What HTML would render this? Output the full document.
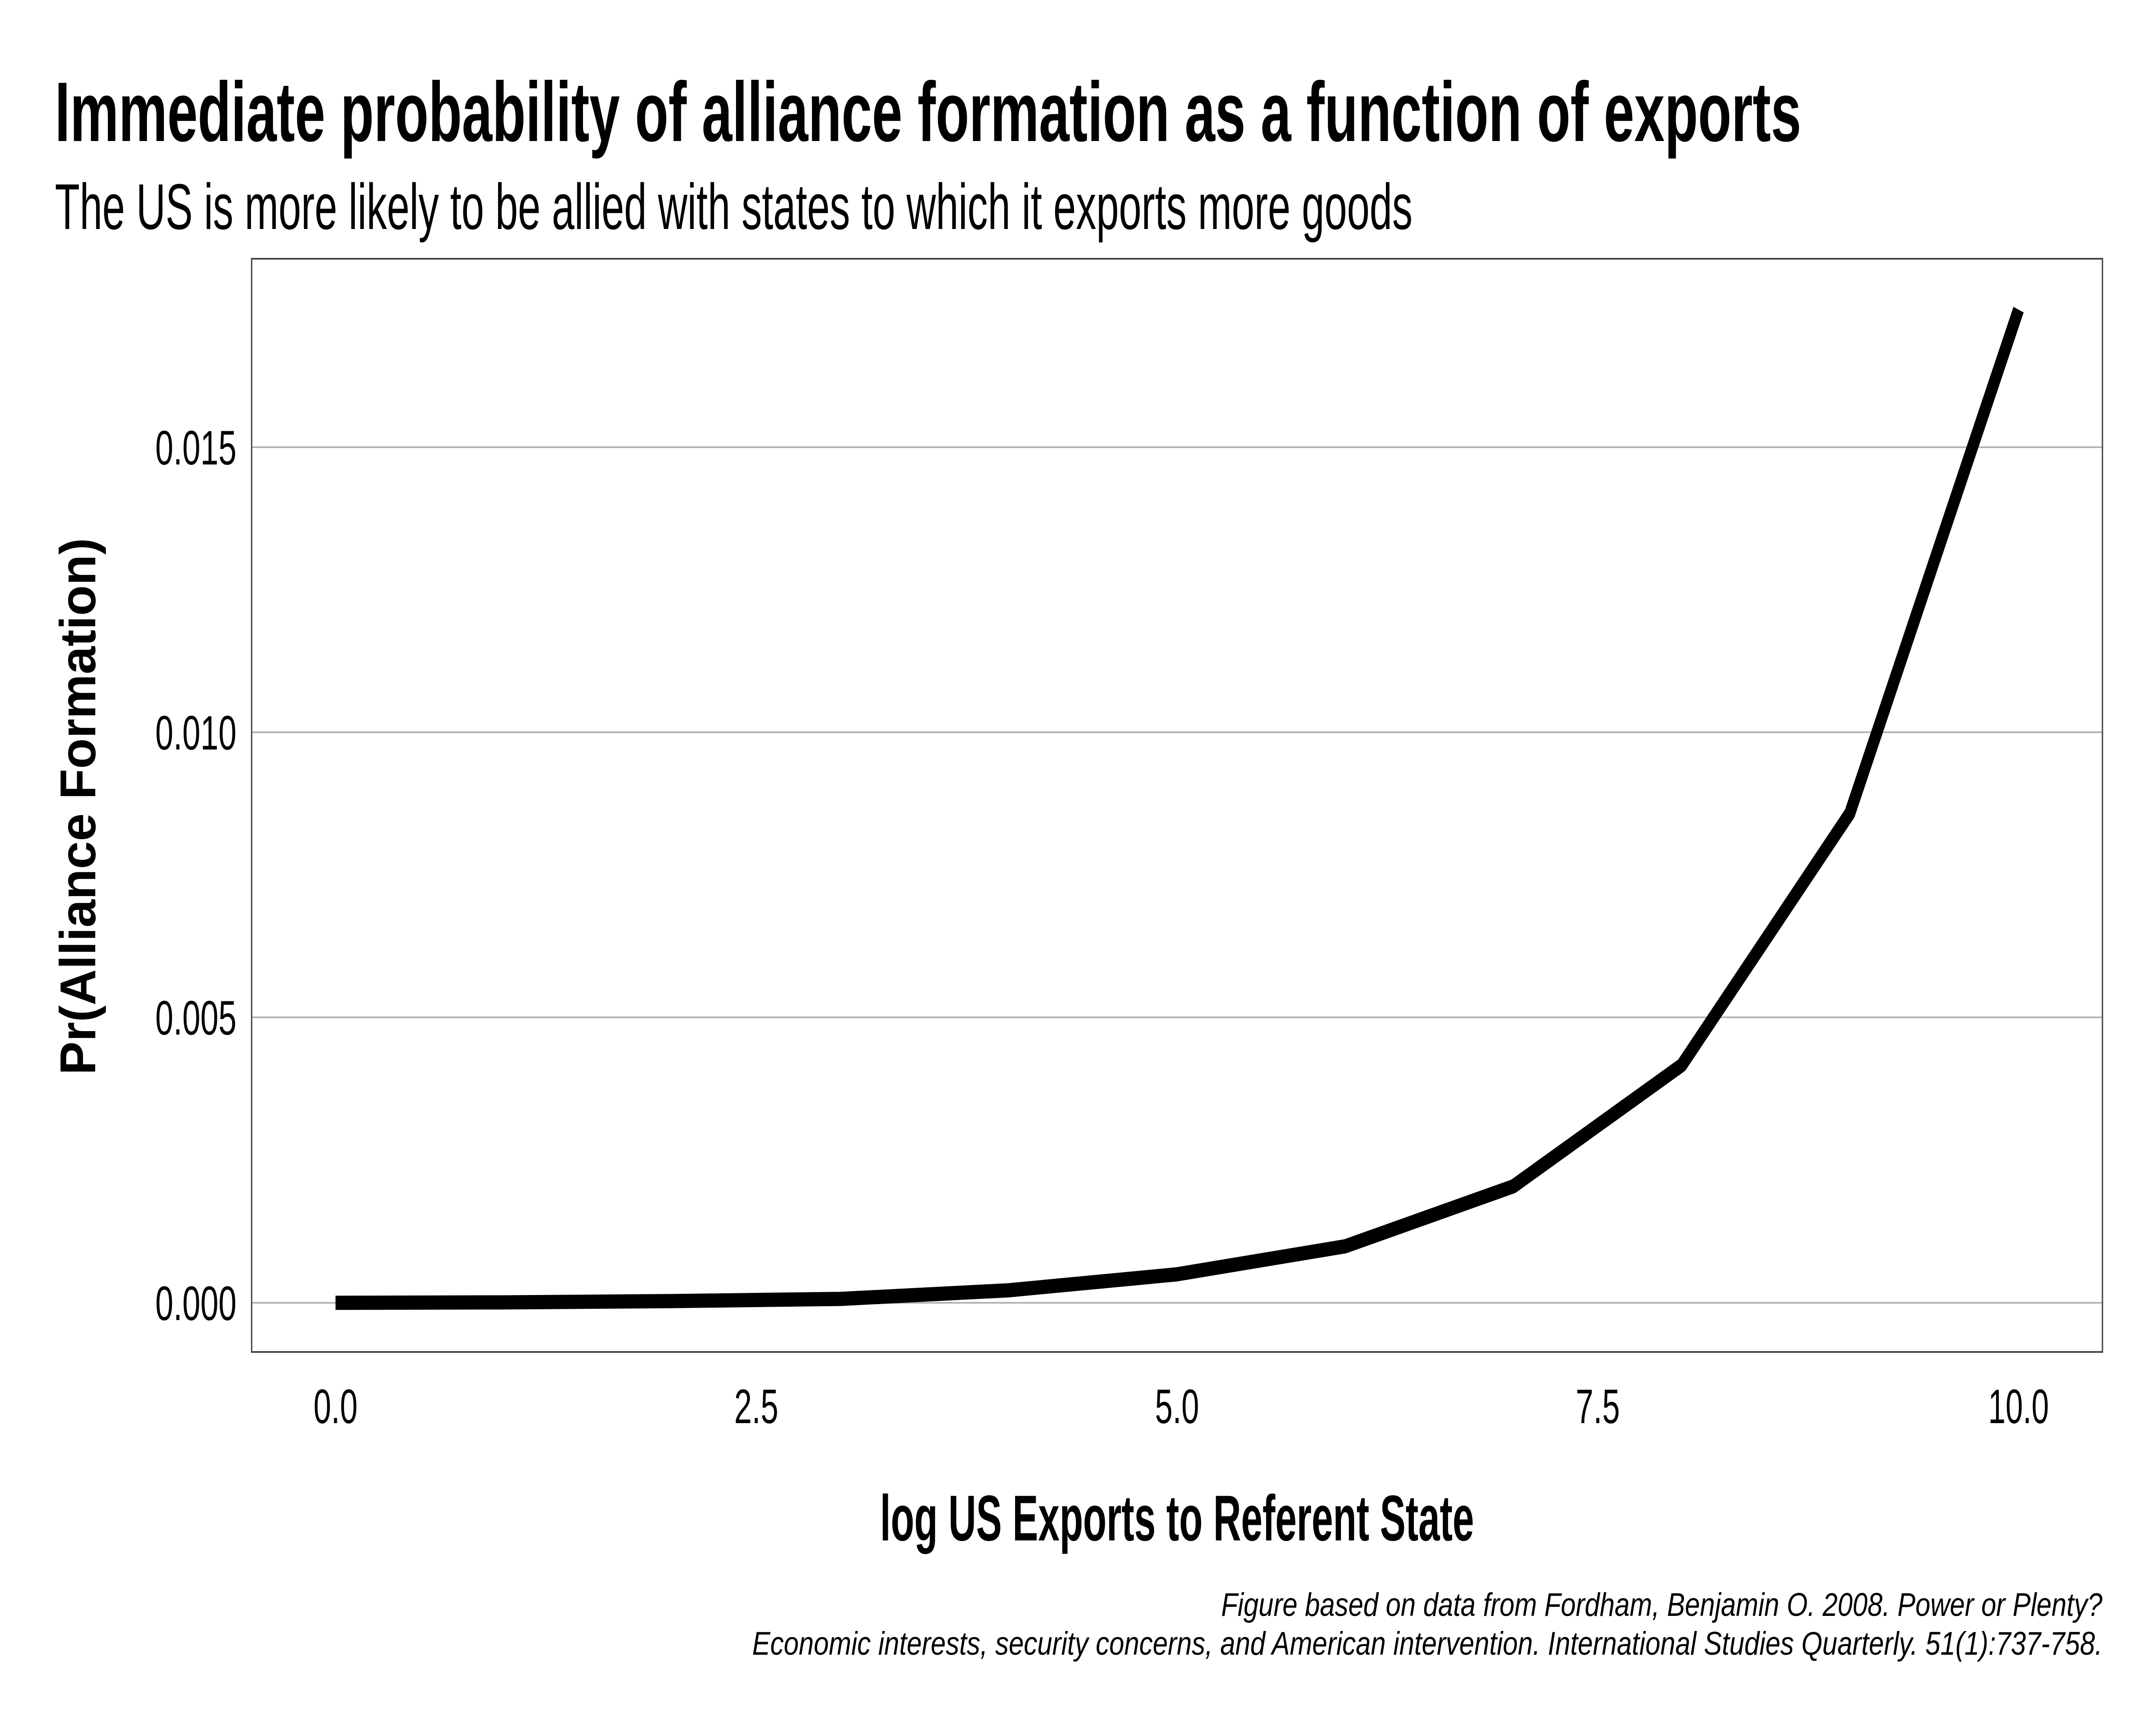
<!DOCTYPE html>
<html><head><meta charset="utf-8"><style>html,body{margin:0;padding:0;background:#fff;overflow:hidden;width:100%;height:100%}svg{display:block;width:100vw;height:100vh}</style></head>
<body>
<svg viewBox="0 0 6400 4000" preserveAspectRatio="none" xmlns="http://www.w3.org/2000/svg">
<rect width="6400" height="4000" fill="#fff"/>
<text x="163" y="327" font-family="Liberation Sans, sans-serif" font-weight="bold" font-size="196" textLength="5184" lengthAdjust="spacingAndGlyphs">Immediate probability of alliance formation as a function of exports</text>
<text x="163" y="531" font-family="Liberation Sans, sans-serif" font-size="150" textLength="4030" lengthAdjust="spacingAndGlyphs">The US is more likely to be allied with states to which it exports more goods</text>
<g stroke="#b3b3b3" stroke-width="4">
<line x1="747" x2="6241" y1="1037" y2="1037"/>
<line x1="747" x2="6241" y1="1698" y2="1698"/>
<line x1="747" x2="6241" y1="2359" y2="2359"/>
<line x1="747" x2="6241" y1="3021" y2="3021"/>
</g>
<rect x="747" y="600" width="5494" height="2535" fill="none" stroke="#444" stroke-width="4"/>
<polyline fill="none" stroke="#000" stroke-width="33" stroke-linejoin="round" points="996,3021 1495,3020 1995,3017 2494,3012 2994,2992 3493,2955 3993,2890 4492,2751 4992,2470 5491,1886 5992,718"/>
<g font-family="Liberation Sans, sans-serif" font-size="112" text-anchor="end">
<text x="702" y="1077" textLength="241" lengthAdjust="spacingAndGlyphs">0.015</text>
<text x="702" y="1738" textLength="241" lengthAdjust="spacingAndGlyphs">0.010</text>
<text x="702" y="2399" textLength="241" lengthAdjust="spacingAndGlyphs">0.005</text>
<text x="702" y="3061" textLength="241" lengthAdjust="spacingAndGlyphs">0.000</text>
</g>
<g font-family="Liberation Sans, sans-serif" font-size="112" text-anchor="middle">
<text x="996" y="3300" textLength="131" lengthAdjust="spacingAndGlyphs">0.0</text>
<text x="2245" y="3300" textLength="131" lengthAdjust="spacingAndGlyphs">2.5</text>
<text x="3494" y="3300" textLength="131" lengthAdjust="spacingAndGlyphs">5.0</text>
<text x="4743" y="3300" textLength="131" lengthAdjust="spacingAndGlyphs">7.5</text>
<text x="5992" y="3300" textLength="180" lengthAdjust="spacingAndGlyphs">10.0</text>
</g>
<text x="3494" y="3572" text-anchor="middle" font-family="Liberation Sans, sans-serif" font-weight="bold" font-size="150" textLength="1763" lengthAdjust="spacingAndGlyphs">log US Exports to Referent State</text>
<text transform="translate(283,1870) rotate(-90)" text-anchor="middle" font-family="Liberation Sans, sans-serif" font-weight="bold" font-size="150" textLength="1245" lengthAdjust="spacingAndGlyphs">Pr(Alliance Formation)</text>
<g font-family="Liberation Sans, sans-serif" font-style="italic" font-size="76" text-anchor="end">
<text x="6241" y="3747" textLength="2616" lengthAdjust="spacingAndGlyphs">Figure based on data from Fordham, Benjamin O. 2008. Power or Plenty?</text>
<text x="6241" y="3837" textLength="4008" lengthAdjust="spacingAndGlyphs">Economic interests, security concerns, and American intervention. International Studies Quarterly. 51(1):737-758.</text>
</g>
</svg>
</body></html>
